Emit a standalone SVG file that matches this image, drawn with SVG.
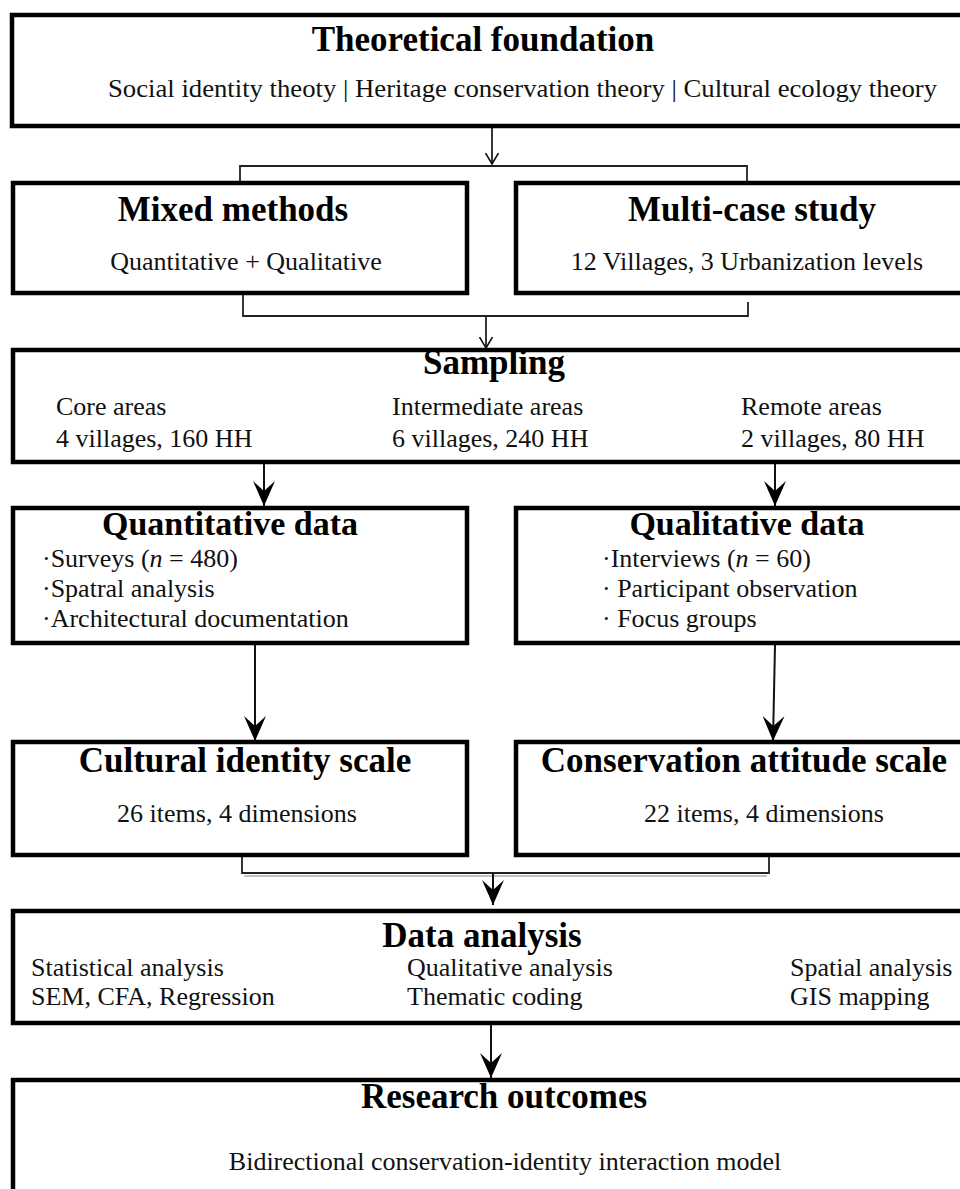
<svg xmlns="http://www.w3.org/2000/svg" width="960" height="1189" viewBox="0 0 960 1189">
<style>
.box{fill:#fff;stroke:#000;stroke-width:4.5}
.t{font-family:"Liberation Serif","Times New Roman",serif;font-weight:bold;font-size:35px;fill:#000;text-anchor:middle}
.t2{font-size:34px}
.b{font-family:"Liberation Serif","Times New Roman",serif;font-size:26px;fill:#111}
.c{text-anchor:middle}
.ln{stroke:#222;stroke-width:1.8;fill:none}
.ar{stroke:#111;stroke-width:2;fill:none}
</style>
<defs>
<marker id="big" markerUnits="userSpaceOnUse" viewBox="0 0 25 22" refX="25" refY="11" markerWidth="25" markerHeight="22" orient="auto">
<path d="M0,0 L25,11 L0,22 L10,11 z" fill="#000"/>
</marker>
<marker id="small" markerUnits="userSpaceOnUse" viewBox="0 0 12 14" refX="11" refY="7" markerWidth="12" markerHeight="14" orient="auto">
<path d="M0,0.5 L11,7 L0,13.5" fill="none" stroke="#111" stroke-width="1.6"/>
</marker>
</defs>
<rect width="960" height="1189" fill="#fff"/>
<g id="connectors">
<line class="ln" x1="492" y1="128" x2="492" y2="164" marker-end="url(#small)"/>
<polyline class="ln" points="240,188 240,166 747,166 747,182"/>
<polyline class="ln" points="243,292 243,316 748,316 748,302"/>
<line class="ln" x1="486" y1="316" x2="486" y2="348" marker-end="url(#small)"/>
<line class="ar" x1="264" y1="464" x2="264" y2="506" marker-end="url(#big)"/>
<line class="ar" x1="775" y1="464" x2="775" y2="506" marker-end="url(#big)"/>
<line class="ar" x1="255" y1="645" x2="255" y2="741" marker-end="url(#big)"/>
<line class="ar" x1="775" y1="645" x2="773" y2="741" marker-end="url(#big)"/>
<polyline class="ln" points="242,857 242,873 769,873 769,857"/>
<line x1="244" y1="876" x2="767" y2="876" stroke="#888" stroke-width="1.2"/>
<line class="ar" x1="493" y1="873" x2="493" y2="905" marker-end="url(#big)"/>
<line class="ar" x1="491" y1="1025" x2="491" y2="1078" marker-end="url(#big)"/>
</g>
<g id="theoretical">
<rect class="box" x="12" y="15" width="970" height="111"/>
<text class="t" x="483" y="51">Theoretical foundation</text>
<text class="b" x="108" y="97" textLength="829" lengthAdjust="spacingAndGlyphs">Social identity theoty | Heritage conservation theory | Cultural ecology theory</text>
</g>
<g id="mixed">
<rect class="box" x="13" y="183" width="454" height="110"/>
<text class="t" x="233" y="221">Mixed methods</text>
<text class="b c" x="246" y="270">Quantitative + Qualitative</text>
</g>
<g id="multicase">
<rect class="box" x="516" y="183" width="470" height="110"/>
<text class="t" x="752" y="221">Multi-case study</text>
<text class="b c" x="747" y="270">12 Villages, 3 Urbanization levels</text>
</g>
<g id="sampling">
<rect class="box" x="13" y="350" width="970" height="112"/>
<text class="t" x="494" y="374">Sampling</text>
<text class="b" x="56" y="415">Core areas</text>
<text class="b" x="56" y="447">4 villages, 160 HH</text>
<text class="b" x="392" y="415">Intermediate areas</text>
<text class="b" x="392" y="447">6 villages, 240 HH</text>
<text class="b" x="741" y="415">Remote areas</text>
<text class="b" x="741" y="447">2 villages, 80 HH</text>
</g>
<g id="quantitative">
<rect class="box" x="13" y="508" width="454" height="135"/>
<text class="t t2" x="230" y="535">Quantitative data</text>
<text class="b" x="42" y="567">·Surveys (<tspan font-style="italic">n</tspan> = 480)</text>
<text class="b" x="42" y="597">·Spatral analysis</text>
<text class="b" x="42" y="627">·Architectural documentation</text>
</g>
<g id="qualitative">
<rect class="box" x="516" y="508" width="470" height="135"/>
<text class="t t2" x="747" y="535">Qualitative data</text>
<text class="b" x="602" y="567">·Interviews (<tspan font-style="italic">n</tspan> = 60)</text>
<text class="b" x="602" y="597">· Participant observation</text>
<text class="b" x="602" y="627">· Focus groups</text>
</g>
<g id="cultural">
<rect class="box" x="13" y="742" width="454" height="113"/>
<text class="t" x="245" y="772">Cultural identity scale</text>
<text class="b c" x="237" y="822">26 items, 4 dimensions</text>
</g>
<g id="conservation">
<rect class="box" x="516" y="742" width="470" height="113"/>
<text class="t" x="744" y="772">Conservation attitude scale</text>
<text class="b c" x="764" y="822">22 items, 4 dimensions</text>
</g>
<g id="analysis">
<rect class="box" x="13" y="911" width="970" height="112"/>
<text class="t" x="482" y="947">Data analysis</text>
<text class="b" x="31" y="976">Statistical analysis</text>
<text class="b" x="31" y="1005">SEM, CFA, Regression</text>
<text class="b" x="407" y="976">Qualitative analysis</text>
<text class="b" x="407" y="1005">Thematic coding</text>
<text class="b" x="790" y="976">Spatial analysis</text>
<text class="b" x="790" y="1005">GIS mapping</text>
</g>
<g id="outcomes">
<rect class="box" x="13" y="1080" width="970" height="120"/>
<text class="t" x="504" y="1108">Research outcomes</text>
<text class="b c" x="505" y="1170">Bidirectional conservation-identity interaction model</text>
</g>
</svg>
